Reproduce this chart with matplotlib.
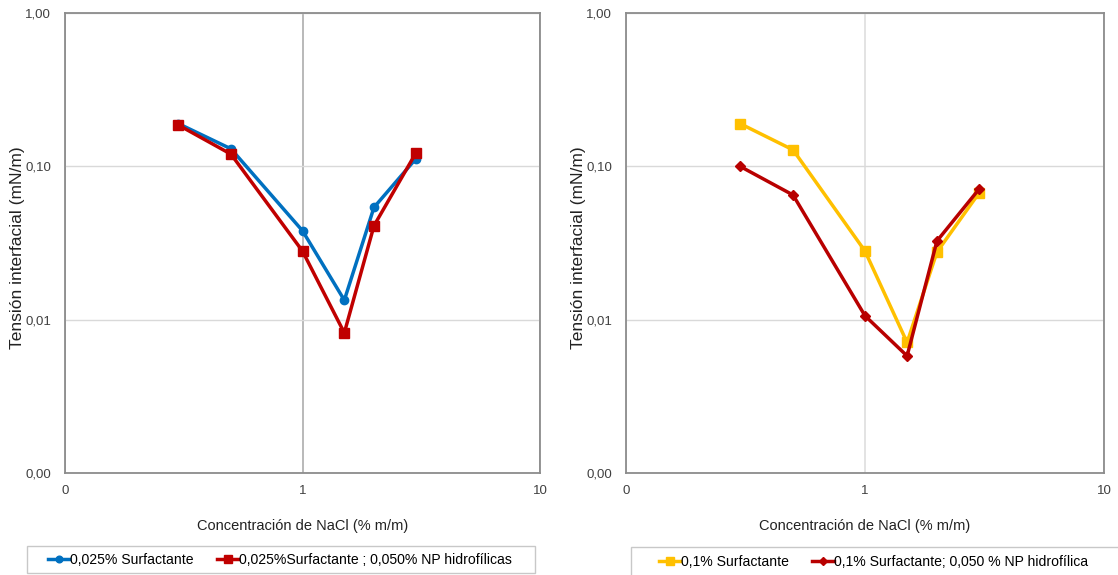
import matplotlib.pyplot as plt
from matplotlib.patches import Rectangle
from matplotlib.ticker import FixedLocator, FixedFormatter, NullLocator

plt.rcParams['font.family'] = ['Liberation Sans', 'DejaVu Sans']

# NaCl concentration (% m/m)
nacl = [0.3, 0.5, 1.0, 1.5, 2.0, 3.0]

# interfacial tension (mN/m)
surf_025 = [0.19, 0.13, 0.038, 0.0134, 0.054, 0.112]
surf_025_np = [0.186, 0.12, 0.028, 0.0082, 0.041, 0.122]
surf_01 = [0.19, 0.128, 0.028, 0.0071, 0.0276, 0.067]
surf_01_np = [0.10, 0.065, 0.0106, 0.0058, 0.0326, 0.071]

x_ticks = [0.1, 1, 10]
x_labels = ['0', '1', '10']
y_ticks = [0.001, 0.01, 0.1, 1]
y_labels = ['0,00', '0,01', '0,10', '1,00']

W, H = 1118, 575
fig = plt.figure(figsize=(W / 100, H / 100), dpi=100)
ax1 = fig.add_axes([65 / W, 1 - 473 / H, 475 / W, 460 / H])
ax2 = fig.add_axes([626 / W, 1 - 473 / H, 478 / W, 460 / H])


def style_axes(ax, vgrid_color):
    ax.set_xscale('log')
    ax.set_yscale('log')
    ax.set_xlim(0.1, 10)
    ax.set_ylim(0.001, 1)
    ax.xaxis.set_major_locator(FixedLocator(x_ticks))
    ax.xaxis.set_major_formatter(FixedFormatter(x_labels))
    ax.xaxis.set_minor_locator(NullLocator())
    ax.yaxis.set_major_locator(FixedLocator(y_ticks))
    ax.yaxis.set_major_formatter(FixedFormatter(y_labels))
    ax.yaxis.set_minor_locator(NullLocator())
    ax.tick_params(length=0, labelsize=9.5, colors='#404040')
    ax.tick_params(axis='y', pad=10)
    ax.tick_params(axis='x', pad=9)
    ax.grid(axis='y', color='#d9d9d9', linewidth=1)
    ax.grid(axis='x', color=vgrid_color, linewidth=1.3)
    ax.set_axisbelow(True)
    for s in ax.spines.values():
        s.set_color('#8c8c8c')
        s.set_linewidth(1.3)
    ax.set_xlabel('Concentración de NaCl (% m/m)', fontsize=10.5, color='#222222')
    ax.xaxis.set_label_coords(0.5, -0.115)
    ax.xaxis.label.set_va('center')
    ax.set_ylabel('Tensión interfacial (mN/m)', fontsize=12.5, color='#222222')
    ax.yaxis.set_label_coords(-47 / 475, 0.49)
    ax.yaxis.label.set_va('center')


style_axes(ax1, '#b3b3b3')
style_axes(ax2, '#e0e0e0')

l1, = ax1.plot(nacl, surf_025, color='#0070C0', lw=2.5, marker='o', ms=6,
               label='0,025% Surfactante')
l2, = ax1.plot(nacl, surf_025_np, color='#C00000', lw=2.5, marker='s', ms=7,
               label='0,025%Surfactante ; 0,050% NP hidrofílicas')

l3, = ax2.plot(nacl, surf_01, color='#FFC000', lw=2.5, marker='s', ms=7,
               label='0,1% Surfactante')
l4, = ax2.plot(nacl, surf_01_np, color='#B80000', lw=2.5, marker='D', ms=5,
               label='0,1% Surfactante; 0,050 % NP hidrofílica')

# legend boxes below each panel
fig.patches.append(Rectangle((27 / W, 1 - 573 / H), 508 / W, 27 / H,
                             transform=fig.transFigure, fill=False,
                             edgecolor='#c8c8c8', linewidth=1))
fig.patches.append(Rectangle((631 / W, 1 - 590 / H), 500 / W, 43 / H,
                             transform=fig.transFigure, fill=False,
                             edgecolor='#c8c8c8', linewidth=1))

leg_kw = dict(ncol=2, fontsize=10.1, frameon=False, borderpad=0,
              handlelength=1.5, handletextpad=0.05, columnspacing=1.7,
              markerscale=0.8)
fig.legend(handles=[l1, l2], loc='center left',
           bbox_to_anchor=(41 / W, 1 - 560 / H), **leg_kw)
fig.legend(handles=[l3, l4], loc='center left',
           bbox_to_anchor=(652 / W, 1 - 562 / H), **leg_kw)

fig.savefig('out.png', dpi=100)
